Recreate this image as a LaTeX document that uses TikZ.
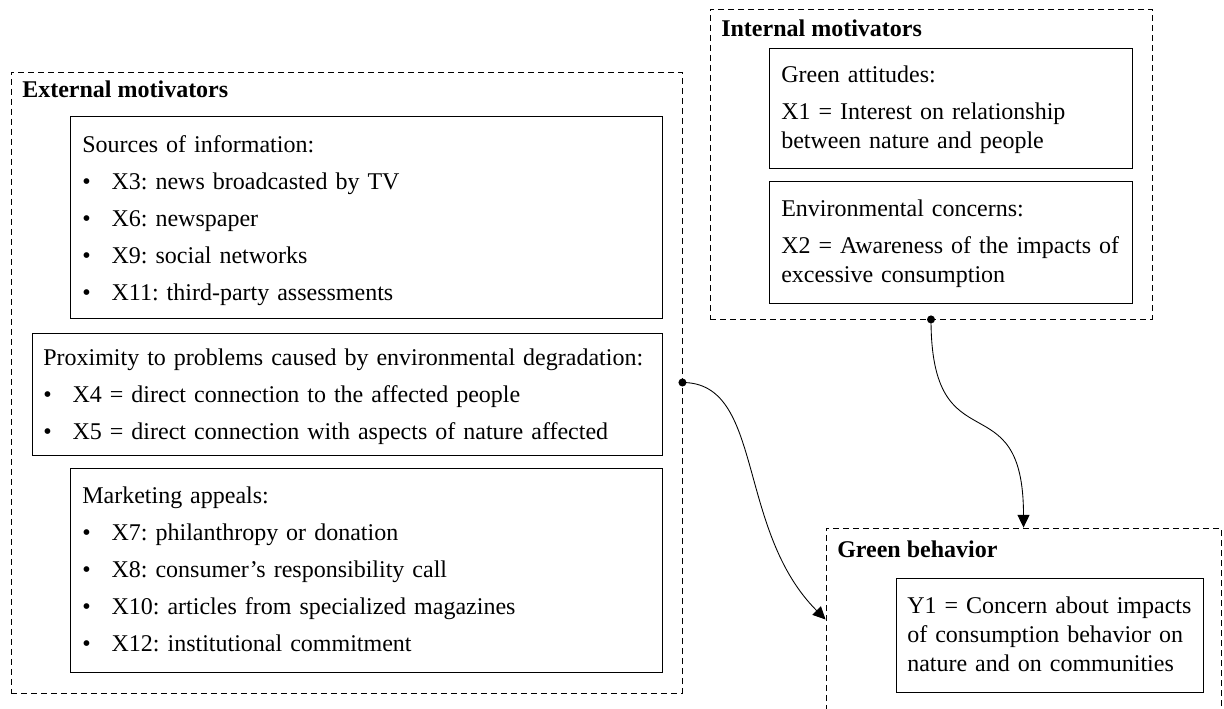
\documentclass[tikz,border=0pt]{standalone}
\usepackage{fontspec}
\setmainfont{Liberation Serif}
\usetikzlibrary{arrows.meta,fit}

\frenchspacing
\newcommand{\itm}[1]{\makebox[22pt][l]{\textbullet}#1}

\begin{document}
\begin{tikzpicture}[x=0.75pt,y=0.75pt,yscale=-1,xscale=1,
	grp/.style={draw, dash pattern=on 4.5pt off 3pt, line width=0.65pt, inner sep=0pt},
	box/.style={draw, line width=0.75pt, inner sep=0pt},
	txt/.style={anchor=base west, inner sep=0pt, align=left, text width=460pt, font=\fontsize{18}{21.75}\selectfont},
	ttl/.style={anchor=base west, inner sep=0pt, font=\fontsize{18}{21.75}\selectfont\bfseries},
	link/.style={line width=0.65pt, -{Triangle[length=9.5pt,width=9pt]}}
	]
	\useasboundingbox (0,0) rectangle (1224,709);

	% external motivators
	\node [grp, fit={(11,72) (682,693)}] (ext) {};
	\node [ttl] (extT) at (22,98) {External motivators};
	\node [box, fit={(70,117) (662,318)}] (src) {};
	\node [txt] (srcT) at (82,153) {Sources of information:\\[6pt]
		\itm{X3: news broadcasted by TV}\\[6pt]
		\itm{X6: newspaper}\\[6pt]
		\itm{X9: social networks}\\[6pt]
		\itm{X11: third-party assessments}};
	\node [box, fit={(32,333) (662,455)}] (prox) {};
	\node [txt] (proxT) at (43,365) {Proximity to problems caused by environmental degradation:\\[6pt]
		\itm{X4 = direct connection to the affected people}\\[6pt]
		\itm{X5 = direct connection with aspects of nature affected}};
	\node [box, fit={(70,468) (662,672)}] (mkt) {};
	\node [txt] (mktT) at (82,503) {Marketing appeals:\\[6pt]
		\itm{X7: philanthropy or donation}\\[6pt]
		\itm{X8: consumer's responsibility call}\\[6pt]
		\itm{X10: articles from specialized magazines}\\[6pt]
		\itm{X12: institutional commitment}};

	% internal motivators
	\node [grp, fit={(710,9) (1152,319)}] (int) {};
	\node [ttl] (intT) at (721,37) {Internal motivators};
	\node [box, fit={(769,49) (1132,169)}] (att) {};
	\node [txt] (attT) at (781,83) {Green attitudes:\\[6pt]
		X1 = Interest on relationship\\
		between nature and people};
	\node [box, fit={(769,182) (1132,303)}] (env) {};
	\node [txt] (envT) at (781,217) {Environmental concerns:\\[6pt]
		X2 = Awareness of the impacts of\\
		excessive consumption};

	% green behavior
	\node [grp, fit={(826,528) (1221,711)}] (gb) {};
	\node [ttl] (gbT) at (837,557) {Green behavior};
	\node [box, fit={(896,578) (1203,692)}] (y1) {};
	\node [txt] (y1T) at (907,613) {Y1 = Concern about impacts\\
		of consumption behavior on\\
		nature and on communities};

	% links
	\fill (ext.east) circle (4);
	\draw [link] (ext.east) .. controls +(82,0) and +(-90,-90) .. (gb.west);
	\fill (int.south) circle (4);
	\draw [link] (int.south) .. controls +(0,150) and +(0,-150) .. (gb.north);
\end{tikzpicture}
\end{document}
